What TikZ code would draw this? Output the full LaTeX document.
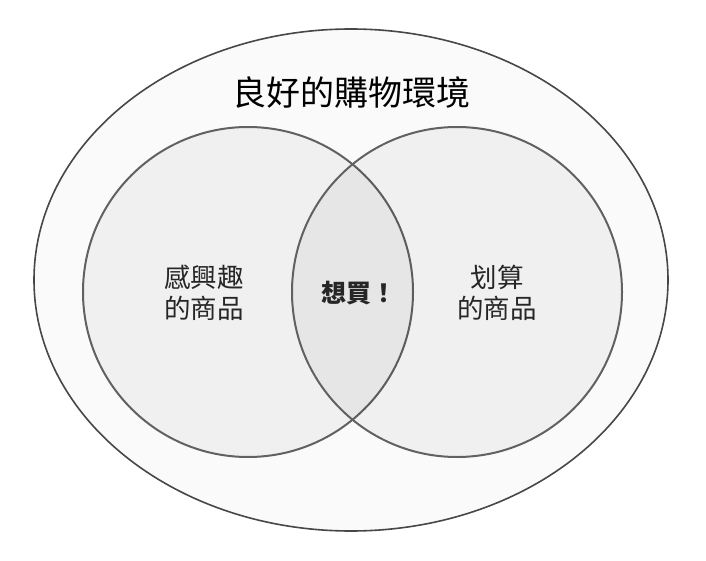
\documentclass[tikz,border=0pt]{standalone}
\usepackage{fontspec}
\setmainfont{Noto Sans CJK TC}
\usetikzlibrary{shapes.geometric}
\usetikzlibrary{positioning}
\tikzset{every set/.style={shape=circle, minimum size=330pt, inner sep=0pt, draw=black!62, line width=2pt, fill=black, fill opacity=0.038, text opacity=1}}
\begin{document}
\begin{tikzpicture}[x=1pt, y=-1pt]
		\useasboundingbox (0,0) rectangle (706,561);
		\node[shape=ellipse, minimum width=634pt, minimum height=502pt, inner sep=0pt, draw=black!72, line width=1.6pt, fill=black!2] (env) at (351,280) {};
		\node[style=every set] (L) at (248,292) {};
		\node[style=every set] (R) at (457,292) {};
		\node[font=\fontsize{34}{40}\selectfont] (title) at (351,92) {良好的購物環境};
		\node[font=\fontsize{26.5}{31}\selectfont, align=center, text=black!85] (like) at (204,293) {感興趣\\的商品};
		\node[font=\fontsize{25}{31}\selectfont\bfseries, text=black!85] (want) at (359,293) {想買！};
		\node[font=\fontsize{26.5}{31}\selectfont, align=center, text=black!85] (cheap) at (497,293) {划算\\的商品};
	\end{tikzpicture}
\end{document}
